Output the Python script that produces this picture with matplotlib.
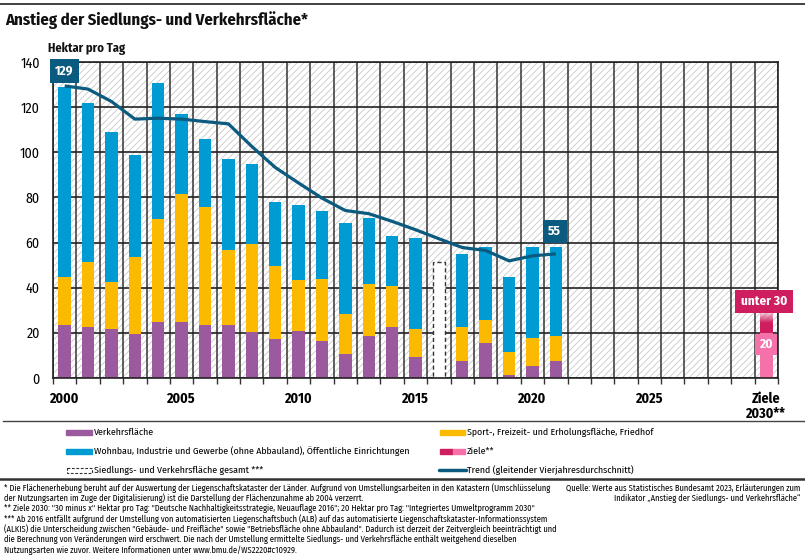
import matplotlib
matplotlib.use('Agg')
import matplotlib.pyplot as plt
import numpy as np
from matplotlib import font_manager
from matplotlib.patches import Rectangle
from matplotlib.lines import Line2D

# condensed sans similar to the original
installed = {f.name for f in font_manager.fontManager.ttflist}
FONT = 'Liberation Sans'
for name in ['Fira Sans Condensed', 'Asap Condensed', 'Barlow Semi Condensed', 'Liberation Sans Narrow']:
    if name in installed:
        FONT = name
        break
plt.rcParams['font.family'] = [FONT, 'DejaVu Sans']
plt.rcParams['hatch.linewidth'] = 0.6

# Data (Hektar pro Tag)
YEARS = [2000, 2001, 2002, 2003, 2004, 2005, 2006, 2007, 2008, 2009, 2010,
         2011, 2012, 2013, 2014, 2015, 2017, 2018, 2019, 2020, 2021]
VERKEHR = [23.5, 22.6, 21.7, 19.5, 24.8, 24.8, 23.5, 23.5, 20.4, 17.3, 20.8,
           16.4, 10.6, 18.6, 22.6, 9.3, 7.5, 15.5, 1.3, 5.3, 7.5]
SPORT = [21.2, 28.8, 20.8, 34.1, 45.6, 56.7, 52.3, 33.2, 39.0, 32.3, 22.6,
         27.5, 17.8, 22.9, 18.0, 12.4, 15.1, 10.2, 10.2, 12.4, 11.1]
WOHNBAU = [84.3, 70.4, 66.5, 45.2, 60.3, 35.5, 30.1, 40.3, 35.4, 28.4, 33.3,
           30.1, 40.3, 29.4, 22.3, 40.3, 32.3, 32.3, 33.2, 40.3, 39.4]

GESAMT_YEAR = [2016]
GESAMT = [51.2]

TREND_YEARS = list(range(2000, 2022))
TREND = [129.4, 128.0, 122.5, 114.7, 115.1, 114.7, 113.6, 112.6, 102.6, 93.3, 86.4,
         79.7, 74.2, 72.8, 69.4, 65.7, 61.7, 57.8, 56.5, 51.9, 54.1, 55.0]

ZIEL_YEAR = 2030
ZIEL_20 = 20
ZIEL_30 = 30

XTICKS = [2000, 2005, 2010, 2015, 2020, 2025, 2030]
XTICKLABELS = ['2000', '2005', '2010', '2015', '2020', '2025', 'Ziele\n2030**']

# Colors
PURPLE = '#9b5a9e'
YELLOW = '#fbba00'
BLUE = '#009bd3'
TEAL = '#0b5a7f'
CRIMSON = '#cf1e5f'
PINK = '#f472a9'
DARK = '#222222'

W, H = 805, 558
fig = plt.figure(figsize=(W / 100, H / 100), dpi=100)

L, R, T, B = 53, 778, 62, 378
ax = fig.add_axes([L / W, 1 - B / H, (R - L) / W, (B - T) / H])

# hatched background
ax.add_patch(Rectangle((0, 0), 1, 1, transform=ax.transAxes, facecolor='white',
                       edgecolor='#c9c9c9', hatch='/////', lw=0, zorder=0))
ax.set_axisbelow(True)

bw = 0.53
years = np.array(YEARS)
v = np.array(VERKEHR)
s = np.array(SPORT)
w = np.array(WOHNBAU)
ax.bar(years, v, bw, color=PURPLE, zorder=2)
ax.bar(years, s, bw, bottom=v, color=YELLOW, zorder=2)
ax.bar(years, w, bw, bottom=v + s, color=BLUE, zorder=2)

ax.bar(GESAMT_YEAR, GESAMT, bw, facecolor='white', edgecolor='#333333',
       linestyle=(0, (3, 2)), lw=1, zorder=2)

# targets: 20 solid pink, 20..30 fading crimson
ax.bar([ZIEL_YEAR], [ZIEL_20], bw, color=PINK, zorder=2)
grad = np.zeros((100, 1, 4))
grad[:, 0, :3] = matplotlib.colors.to_rgb(CRIMSON)
grad[:, 0, 3] = np.clip((1 - np.linspace(0, 1, 100)) / 0.55, 0, 1)
ax.imshow(grad, extent=[ZIEL_YEAR - bw / 2, ZIEL_YEAR + bw / 2, ZIEL_20, ZIEL_30],
          aspect='auto', origin='lower', zorder=2, interpolation='bilinear')
ax.set_xlim(1999.5, 2030.5)
ax.set_ylim(0, 140)

# trend
ax.plot(TREND_YEARS, TREND, color=TEAL, lw=2.3, zorder=3, solid_capstyle='butt')

lab = dict(color='white', fontsize=9.5, fontweight='bold', ha='center', va='center',
           zorder=5, clip_on=False)
tot0 = VERKEHR[0] + SPORT[0] + WOHNBAU[0]
totn = VERKEHR[-1] + SPORT[-1] + WOHNBAU[-1]
ax.text(YEARS[0], tot0 + 7, f'{TREND[0]:.0f}',
        bbox=dict(boxstyle='square,pad=0.42', fc=TEAL, ec='none'), **lab)
ax.text(YEARS[-1] - 0.05, totn + 6.8, f'{TREND[-1]:.0f}',
        bbox=dict(boxstyle='square,pad=0.42', fc=TEAL, ec='none'), **lab)
ax.text(ZIEL_YEAR - 0.1, ZIEL_30 + 3.8, f'unter {ZIEL_30}',
        bbox=dict(boxstyle='square,pad=0.42', fc=CRIMSON, ec='none'), **lab)
ax.text(ZIEL_YEAR, ZIEL_20 - 5.3, f'{ZIEL_20}',
        bbox=dict(boxstyle='square,pad=0.32', fc=PINK, ec='none'), **lab)

# grid / ticks
ax.set_yticks(range(0, 141, 20))
ax.yaxis.grid(True, color=DARK, lw=1.2)
ax.set_xticks(XTICKS)
ax.set_xticklabels(XTICKLABELS, fontweight='bold', fontsize=10, linespacing=1.1)
ax.set_xticks(np.arange(1999.5, 2031, 1), minor=True)
ax.xaxis.grid(True, which='minor', color='#333333', lw=1.1)
ax.tick_params(axis='x', which='major', length=0, pad=10)
ax.tick_params(axis='x', which='minor', length=4, width=1, color='#333333')
ax.tick_params(axis='y', length=0, pad=9.5, labelsize=10)
for sp in ax.spines.values():
    sp.set_color(DARK)
    sp.set_linewidth(1.2)

# overlay for headings, legend, footnotes (pixel coordinates)
ov = fig.add_axes([0, 0, 1, 1], zorder=-1)
ov.set_xlim(0, W)
ov.set_ylim(H, 0)
ov.axis('off')
ov.patch.set_alpha(0)

ov.add_line(Line2D([0, W], [4, 4], color='#333333', lw=1.3))
ov.text(5, 20, 'Anstieg der Siedlungs- und Verkehrsfläche*', fontsize=12,
        fontweight='bold', va='center', ha='left', color='#111111')
ov.text(48, 49, 'Hektar pro Tag', fontsize=9, fontweight='bold', va='center', color='#111111')

ov.add_line(Line2D([3, W], [421, 421], color='#444444', lw=1))
ov.add_line(Line2D([0, W], [479, 479], color='#333333', lw=1.8))

legfs = 7.1
rows = [432, 451, 470]
ov.add_patch(Rectangle((66, rows[0] - 2.5), 26, 5, color=PURPLE))
ov.text(94, rows[0], 'Verkehrsfläche', fontsize=legfs, va='center')
ov.add_patch(Rectangle((66, rows[1] - 2.5), 26, 5, color=BLUE))
ov.text(94, rows[1], 'Wohnbau, Industrie und Gewerbe (ohne Abbauland), Öffentliche Einrichtungen',
        fontsize=legfs, va='center')
ov.add_patch(Rectangle((66.5, rows[2] - 2.5), 25, 5, facecolor='white', edgecolor='#333333',
                       lw=0.8, linestyle=(0, (2.5, 1.5))))
ov.text(94, rows[2], 'Siedlungs- und Verkehrsfläche gesamt ***', fontsize=legfs, va='center')

ov.add_patch(Rectangle((440, rows[0] - 2.5), 25, 5, color=YELLOW))
ov.text(467, rows[0], 'Sport-, Freizeit- und Erholungsfläche, Friedhof', fontsize=legfs, va='center')
ov.add_patch(Rectangle((440, rows[1] - 2.5), 12.5, 5, color=CRIMSON))
ov.add_patch(Rectangle((452.5, rows[1] - 2.5), 12.5, 5, color=PINK))
ov.text(467, rows[1], 'Ziele**', fontsize=legfs, va='center')
ov.add_line(Line2D([439, 466], [rows[2], rows[2]], color=TEAL, lw=2.5, solid_capstyle='round'))
ov.text(467, rows[2], 'Trend (gleitender Vierjahresdurchschnitt)', fontsize=legfs, va='center')

notes = [
    '* Die Flächenerhebung beruht auf der Auswertung der Liegenschaftskataster der Länder. Aufgrund von Umstellungsarbeiten in den Katastern (Umschlüsselung',
    'der Nutzungsarten im Zuge der Digitalisierung) ist die Darstellung der Flächenzunahme ab 2004 verzerrt.',
    '** Ziele 2030: "30 minus x" Hektar pro Tag: "Deutsche Nachhaltigkeitsstrategie, Neuauflage 2016"; 20 Hektar pro Tag: "Integriertes Umweltprogramm 2030"',
    '*** Ab 2016 entfällt aufgrund der Umstellung von automatisierten Liegenschaftsbuch (ALB) auf das automatisierte Liegenschaftskataster-Informationssystem',
    '(ALKIS) die Unterscheidung zwischen "Gebäude- und Freifläche" sowie "Betriebsfläche ohne Abbauland". Dadurch ist derzeit der Zeitvergleich beeinträchtigt und',
    'die Berechnung von Veränderungen wird erschwert. Die nach der Umstellung ermittelte Siedlungs- und Verkehrsfläche enthält weitgehend dieselben',
    'Nutzungsarten wie zuvor. Weitere Informationen unter www.bmu.de/WS2220#c10929.',
]
for i, line in enumerate(notes):
    ov.text(4, 488 + i * 10.3, line, fontsize=6.1, va='center', ha='left')
ov.text(800, 488, 'Quelle: Werte aus Statistisches Bundesamt 2023, Erläuterungen zum',
        fontsize=6.1, va='center', ha='right')
ov.text(800, 498.3, 'Indikator „Anstieg der Siedlungs- und Verkehrsfläche“',
        fontsize=6.1, va='center', ha='right')

fig.savefig('out.png', dpi=100)
